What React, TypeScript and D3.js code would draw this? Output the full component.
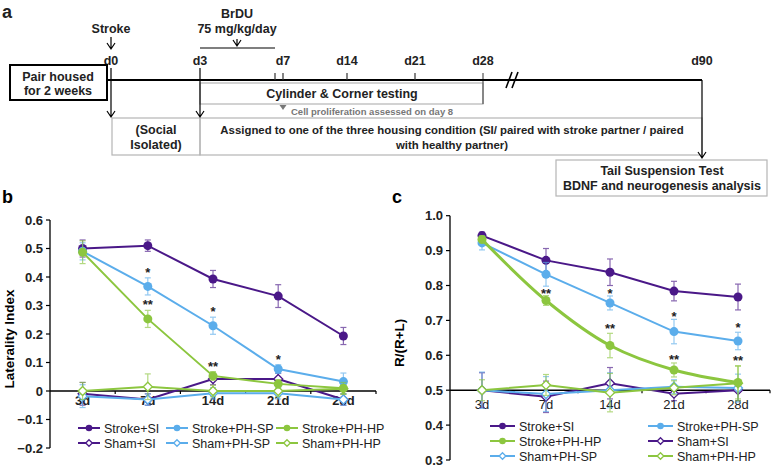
import React from 'react';
import * as d3 from 'd3';

const FONT = 'Liberation Sans, Arial, Helvetica, sans-serif';

const days = ['3d', '7d', '14d', '21d', '28d'];
const seriesNames = ['Stroke+SI', 'Stroke+PH-SP', 'Stroke+PH-HP', 'Sham+SI', 'Sham+PH-SP', 'Sham+PH-HP'];

// panel b - laterality index
const bStrokeSI = [0.5, 0.51, 0.393, 0.333, 0.193];
const bStrokeSIErr = [0.03, 0.02, 0.03, 0.04, 0.03];
const bStrokePHSP = [0.49, 0.367, 0.229, 0.077, 0.033];
const bStrokePHSPErr = [0.03, 0.03, 0.03, 0.015, 0.03];
const bStrokePHHP = [0.487, 0.253, 0.053, 0.025, 0.01];
const bStrokePHHPErr = [0.04, 0.03, 0.015, 0.015, 0.02];
const bShamSI = [-0.01, -0.03, 0.042, 0.042, -0.03];
const bShamSIErr = [0.04, 0.02, 0.02, 0.02, 0.02];
const bShamPHSP = [-0.018, -0.03, -0.008, -0.008, -0.03];
const bShamPHSPErr = [0.04, 0.02, 0.02, 0.02, 0.02];
const bShamPHHP = [0.0, 0.015, 0.0, 0.0, 0.008];
const bShamPHHPErr = [0.03, 0.045, 0.02, 0.02, 0.02];
const bStars = [
  { day: '7d', v: 0.425, t: '*' },
  { day: '7d', v: 0.313, t: '**' },
  { day: '14d', v: 0.29, t: '*' },
  { day: '14d', v: 0.098, t: '**' },
  { day: '21d', v: 0.12, t: '*' },
];

// panel c - R/(R+L)
const cStrokeSI = [0.943, 0.872, 0.838, 0.784, 0.767];
const cStrokeSIErr = [0.01, 0.034, 0.038, 0.028, 0.037];
const cStrokePHSP = [0.922, 0.832, 0.75, 0.668, 0.641];
const cStrokePHSPErr = [0.02, 0.034, 0.02, 0.035, 0.025];
const cStrokePHHP = [0.932, 0.757, 0.628, 0.558, 0.522];
const cStrokePHHPErr = [0.01, 0.014, 0.035, 0.02, 0.047];
const cShamSI = [0.5, 0.481, 0.52, 0.49, 0.5];
const cShamSIErr = [0.05, 0.045, 0.045, 0.02, 0.03];
const cShamPHSP = [0.5, 0.489, 0.5, 0.51, 0.506];
const cShamPHSPErr = [0.052, 0.05, 0.05, 0.02, 0.04];
const cShamPHHP = [0.5, 0.515, 0.493, 0.507, 0.52];
const cShamPHHPErr = [0.03, 0.03, 0.055, 0.02, 0.05];
const cStars = [
  { day: '7d', v: 0.786, t: '**' },
  { day: '14d', v: 0.786, t: '*' },
  { day: '14d', v: 0.686, t: '**' },
  { day: '21d', v: 0.72, t: '*' },
  { day: '21d', v: 0.597, t: '**' },
  { day: '28d', v: 0.688, t: '*' },
  { day: '28d', v: 0.593, t: '**' },
];

// timeline of panel a
const tlDays = [0, 3, 7, 14, 21, 28, 90];

const purple = '#4a1888';
const blue = '#5badeb';
const green = '#8cc63f';
const colors = [purple, blue, green, purple, blue, green];

type Series = { name: string; v: number[]; e: number[]; color: string; filled: boolean; smooth?: boolean; width?: number };

const mk = (vals: number[][], errs: number[][]): Series[] =>
  seriesNames.map((n, i) => ({ name: n, v: vals[i], e: errs[i], color: colors[i], filled: i < 3 }));

const bSeries = mk(
  [bStrokeSI, bStrokePHSP, bStrokePHHP, bShamSI, bShamPHSP, bShamPHHP],
  [bStrokeSIErr, bStrokePHSPErr, bStrokePHHPErr, bShamSIErr, bShamPHSPErr, bShamPHHPErr]
);
const cSeries = mk(
  [cStrokeSI, cStrokePHSP, cStrokePHHP, cShamSI, cShamPHSP, cShamPHHP],
  [cStrokeSIErr, cStrokePHSPErr, cStrokePHHPErr, cShamSIErr, cShamPHSPErr, cShamPHHPErr]
);
cSeries[2].smooth = true;
cSeries[2].width = 3;

function Marker({ s, x, y, r }: { s: Series; x: number; y: number; r: number }) {
  if (s.filled) return <circle cx={x} cy={y} r={r} fill={s.color} />;
  return (
    <path
      d={`M0,${-r} L${r},0 L0,${r} L${-r},0 Z`}
      transform={`translate(${x},${y})`}
      fill="#fff"
      stroke={s.color}
      strokeWidth={1.3}
    />
  );
}

type PlotProps = {
  series: Series[];
  stars: { day: string; v: number; t: string }[];
  x: d3.ScaleBand<string>;
  y: d3.ScaleLinear<number, number>;
  base: number;
  yTicks: number[];
  fmt: (d: number) => string;
  xBold: boolean;
  xLabelY: number;
  yLabel: string;
  yLabelX: number;
  legendPos: (i: number) => [number, number];
  legendLine: number;
};

function Plot(p: PlotProps) {
  const { x, y } = p;
  const cx = (d: string) => (x(d) as number) + x.bandwidth() / 2;
  const [x0, x1] = x.range();
  const [yBot, yTop] = y.range();
  const order = [3, 4, 5, 0, 1, 2];
  return (
    <g fontFamily={FONT}>
      {/* y axis */}
      <line x1={x0} x2={x0} y1={yTop} y2={yBot} stroke="#000" strokeWidth={1.3} />
      {p.yTicks.map(t => (
        <g key={t}>
          <line x1={x0 - 4} x2={x0} y1={y(t)} y2={y(t)} stroke="#000" strokeWidth={1.2} />
          <text x={x0 - 7} y={y(t) + 4.5} textAnchor="end" fontSize={13} fontWeight="bold" fill="#222">
            {p.fmt(t)}
          </text>
        </g>
      ))}
      <text
        transform={`translate(${p.yLabelX},${(yTop + yBot) / 2 + 5}) rotate(-90)`}
        textAnchor="middle"
        fontSize={13.5}
        fontWeight="bold"
      >
        {p.yLabel}
      </text>
      {/* x axis at baseline */}
      <line x1={x0} x2={x1} y1={y(p.base)} y2={y(p.base)} stroke="#000" strokeWidth={1.6} />
      {days.map(d => (
        <line key={d} x1={(x(d) as number) + x.bandwidth()} x2={(x(d) as number) + x.bandwidth()} y1={y(p.base)} y2={y(p.base) + 3} stroke="#000" strokeWidth={1.2} />
      ))}
      {days.map(d => (
        <text key={d} x={cx(d)} y={p.xLabelY} textAnchor="middle" fontSize={13} fontWeight={p.xBold ? 'bold' : 'normal'} fill="#222">
          {d}
        </text>
      ))}
      {/* series */}
      {order.map(i => {
        const s = p.series[i];
        const line = d3
          .line<number>()
          .x((_, j) => cx(days[j]))
          .y(v => y(v))
          .curve(s.smooth ? d3.curveCatmullRom.alpha(0.5) : d3.curveLinear);
        return (
          <g key={s.name}>
            {s.v.map((v, j) => (
              <g key={j} stroke={s.color} strokeWidth={1.2} opacity={0.65}>
                <line x1={cx(days[j])} x2={cx(days[j])} y1={y(v - s.e[j])} y2={y(v + s.e[j])} />
                <line x1={cx(days[j]) - 3} x2={cx(days[j]) + 3} y1={y(v + s.e[j])} y2={y(v + s.e[j])} />
                <line x1={cx(days[j]) - 3} x2={cx(days[j]) + 3} y1={y(v - s.e[j])} y2={y(v - s.e[j])} />
              </g>
            ))}
            <path d={line(s.v) as string} fill="none" stroke={s.color} strokeWidth={s.width ?? 2} />
            {s.v.map((v, j) => (
              <Marker key={j} s={s} x={cx(days[j])} y={y(v)} r={4.5} />
            ))}
          </g>
        );
      })}
      {p.stars.map((s, i) => (
        <text key={i} x={cx(s.day)} y={y(s.v) + 7.5} textAnchor="middle" fontSize={13} fontWeight="bold" fill="#222">
          {s.t}
        </text>
      ))}
      {/* legend */}
      {p.series.map((s, i) => {
        const [lx, ly] = p.legendPos(i);
        return (
          <g key={s.name}>
            <line x1={lx} x2={lx + p.legendLine} y1={ly} y2={ly} stroke={s.color} strokeWidth={2} />
            <Marker s={s} x={lx + p.legendLine / 2} y={ly} r={3.3} />
            <text x={lx + p.legendLine + 4} y={ly + 4.5} fontSize={12.5} fill="#222">
              {s.name}
            </text>
          </g>
        );
      })}
    </g>
  );
}

function arrowHead(x: number, y: number) {
  return `M${x - 4},${y - 6} L${x},${y} L${x + 4},${y - 6}`;
}

function Timeline() {
  const tl = d3.scaleLinear().domain(tlDays).range([111, 200, 283, 347, 415, 483, 702]);
  const ly = 80;
  const gray = '#b5b5b5';
  return (
    <g fontFamily={FONT} fontWeight="bold" fill="#222">
      <text x={2} y={18} fontSize={18}>a</text>
      <text x={tl(0)} y={33} fontSize={12.5} textAnchor="middle">Stroke</text>
      <path d={`M${tl(0)},37 L${tl(0)},49 ${arrowHead(tl(0), 49)}`} fill="none" stroke="#000" strokeWidth={1.2} />
      <text x={237} y={18} fontSize={12.5} textAnchor="middle">BrDU</text>
      <text x={237} y={33} fontSize={12.5} textAnchor="middle">75 mg/kg/day</text>
      <line x1={tl(3)} x2={tl(7) - 8} y1={48} y2={48} stroke="#000" strokeWidth={1.2} />
      <path d={`M237,39 L237,46 ${arrowHead(237, 46)}`} fill="none" stroke="#000" strokeWidth={1.2} />
      {tlDays.map(d => (
        <text key={d} x={tl(d)} y={65} fontSize={12.5} textAnchor="middle">d{d}</text>
      ))}
      {/* testing box */}
      <rect x={tl(3)} y={83} width={tl(28) - tl(3)} height={21} fill="none" stroke={gray} strokeWidth={1.2} />
      <line x1={tl(28)} x2={tl(28)} y1={73} y2={104} stroke="#555" strokeWidth={1.2} />
      <text x={342} y={98} fontSize={12.5} textAnchor="middle">Cylinder &amp; Corner testing</text>
      <path d={`M${tl(7) - 3.5},105 L${tl(7) + 3.5},105 L${tl(7)},110 Z`} fill="#777" />
      <text x={291} y={115} fontSize={9.5} fill="#777">Cell proliferation assessed on day 8</text>
      {/* housing boxes */}
      <rect x={112} y={118} width={tl(3) - 112} height={37} fill="none" stroke={gray} strokeWidth={1.2} />
      <rect x={tl(3)} y={118} width={tl(90) - tl(3)} height={37} fill="none" stroke={gray} strokeWidth={1.2} />
      <text x={156} y={134} fontSize={12.5} textAnchor="middle">(Social</text>
      <text x={156} y={149} fontSize={12.5} textAnchor="middle">Isolated)</text>
      <text x={452} y={134} fontSize={11.4} textAnchor="middle">
        Assigned to one of the three housing condition (SI/ paired with stroke partner / paired
      </text>
      <text x={452} y={149} fontSize={11.4} textAnchor="middle">with healthy partner)</text>
      {/* main line */}
      <line x1={107} x2={tl(90)} y1={ly} y2={ly} stroke="#000" strokeWidth={2} />
      {[tl(7) - 8, tl(7), tl(14), tl(21)].map((x, i) => (
        <line key={i} x1={x} x2={x} y1={73} y2={ly} stroke="#333" strokeWidth={1.2} />
      ))}
      <path d="M506,88 L512,72 M512,88 L518,72" stroke="#000" strokeWidth={1.6} fill="none" />
      {/* pair housed */}
      <rect x={10} y={65} width={97} height={35} fill="#fff" stroke="#000" strokeWidth={2} />
      <text x={58} y={81} fontSize={12.5} textAnchor="middle">Pair housed</text>
      <text x={58} y={95} fontSize={12.5} textAnchor="middle">for 2 weeks</text>
      {/* arrows */}
      <path d={`M${tl(0)},68 L${tl(0)},117 ${arrowHead(tl(0), 117)}`} fill="none" stroke="#000" strokeWidth={1.2} />
      <path d={`M${tl(3)},68 L${tl(3)},117 ${arrowHead(tl(3), 117)}`} fill="none" stroke="#000" strokeWidth={1.2} />
      <path d={`M${tl(90)},${ly} L${tl(90)},158 ${arrowHead(tl(90), 158)}`} fill="none" stroke="#000" strokeWidth={1.2} />
      <rect x={556} y={160} width={211} height={36} fill="#fff" stroke={gray} strokeWidth={1.2} />
      <text x={662} y={175} fontSize={12.5} textAnchor="middle">Tail Suspension Test</text>
      <text x={662} y={190} fontSize={12.5} textAnchor="middle">BDNF and neurogenesis analysis</text>
    </g>
  );
}

export default function App() {
  const xb = d3.scaleBand<string>().domain(days).range([50, 376]);
  const yb = d3.scaleLinear().domain([-0.2, 0.6]).range([448, 220]);
  const xc = d3.scaleBand<string>().domain(days).range([450, 770]);
  const yc = d3.scaleLinear().domain([0.3, 1.0]).range([460, 215.7]);
  const bTicks = d3.range(-2, 7).map(d => d / 10);
  const cTicks = d3.range(3, 11).map(d => d / 10);
  const bCols = [78, 166, 276];
  const cCols = [490, 648];
  return (
    <svg width={772} height={466} style={{ position: 'absolute', left: 0, top: 0, background: '#fff' }}>
      <rect width={772} height={466} fill="#fff" />
      <Timeline />
      <text x={2} y={203} fontSize={18} fontWeight="bold" fontFamily={FONT}>b</text>
      <text x={392} y={203} fontSize={18} fontWeight="bold" fontFamily={FONT}>c</text>
      <Plot
        series={bSeries}
        stars={bStars}
        x={xb}
        y={yb}
        base={0}
        yTicks={bTicks}
        fmt={d => (d === 0 ? '0' : d3.format('.1f')(d))}
        xBold={true}
        xLabelY={405}
        yLabel="Laterality Index"
        yLabelX={14}
        legendPos={i => [bCols[i % 3], 428 + Math.floor(i / 3) * 15]}
        legendLine={22}
      />
      <Plot
        series={cSeries}
        stars={cStars}
        x={xc}
        y={yc}
        base={0.5}
        yTicks={cTicks}
        fmt={d => d3.format('.1f')(d)}
        xBold={false}
        xLabelY={409}
        yLabel="R/(R+L)"
        yLabelX={404}
        legendPos={i => [cCols[i % 2], 426 + Math.floor(i / 2) * 15]}
        legendLine={25}
      />
    </svg>
  );
}
